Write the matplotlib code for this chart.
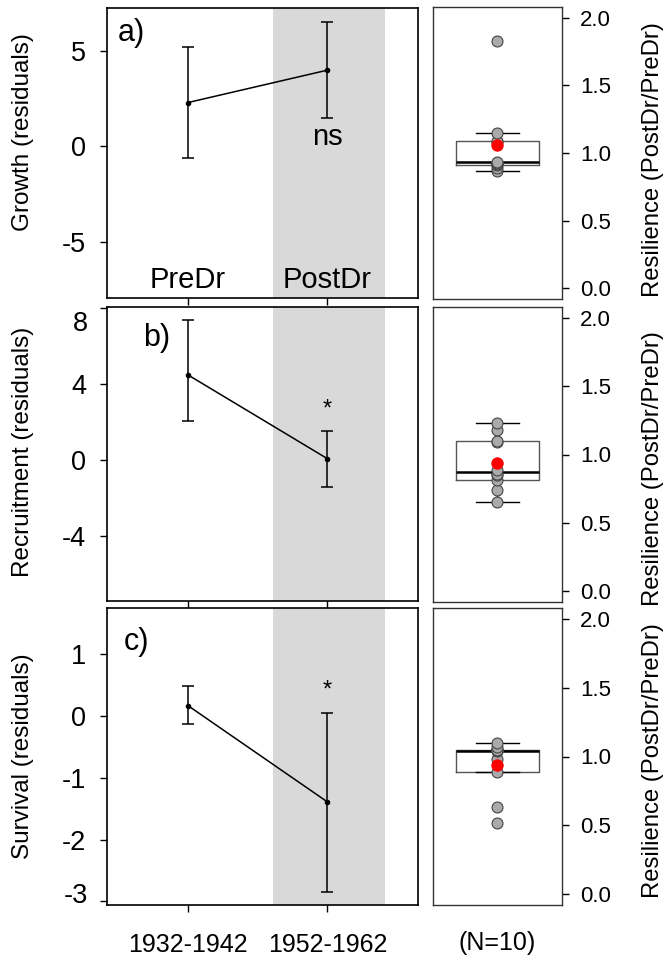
import numpy as np
import matplotlib
matplotlib.use('Agg')
import matplotlib.pyplot as plt

plt.rcParams['font.family'] = ['Liberation Sans', 'DejaVu Sans']
plt.rcParams['axes.unicode_minus'] = False

# ---------------- data ----------------
periods = ['1932-1942', '1952-1962']
phase_labels = ['PreDr', 'PostDr']
x_pos = [1, 2]

growth_mean = [2.3, 4.0]
growth_lo = [-0.63, 1.5]
growth_hi = [5.2, 6.5]

recruit_mean = [4.5, 0.09]
recruit_lo = [2.09, -1.4]
recruit_hi = [7.37, 1.56]

surv_mean = [0.17, -1.39]
surv_lo = [-0.13, -2.85]
surv_hi = [0.49, 0.05]

res_growth = [0.87, 0.89, 0.91, 0.92, 0.925, 0.935, 1.08, 1.09, 1.15, 1.83]
res_recruit = [0.65, 0.74, 0.81, 0.85, 0.86, 0.89, 1.09, 1.10, 1.18, 1.23]
res_surv = [0.52, 0.635, 0.887, 0.98, 1.04, 1.045, 1.045, 1.05, 1.07, 1.097]

sig_labels = ['ns', '*', '*']
sig_y = [0.05, 2.35, 0.32]
panel_tags = ['a)', 'b)', 'c)']
ylabels = ['Growth (residuals)', 'Recruitment (residuals)', 'Survival (residuals)']
n_label = '(N=10)'
res_label = 'Resilience (PostDr/PreDr)'

yticks_left = [[-5, 0, 5], [-4, 0, 4, 8], [-3, -2, -1, 0, 1]]
ylims_left = [(-7.95, 7.26), (-7.4, 8.07), (-3.06, 1.75)]
yticks_right = [0.0, 0.5, 1.0, 1.5, 2.0]

# ---------------- layout ----------------
W, H = 666, 959
fig = plt.figure(figsize=(W / 100, H / 100), dpi=100)

def rect(x0, y0, x1, y1):
    return [x0 / W, 1 - y1 / H, (x1 - x0) / W, (y1 - y0) / H]

left_rects = [rect(107, 8, 418, 298), rect(107, 307, 418, 601), rect(107, 608, 418, 905)]
right_rects = [rect(433, 7, 562, 299), rect(433, 307, 562, 602), rect(433, 608, 562, 905)]
ylabel_y = [132, 451.5, 756.5]
rlabel_y = [159.5, 468.7, 760.8]
tag_pos = [(0.035, 0.966), (0.116, 0.946), (0.055, 0.937)]
# tick labels drawn away from their ticks in the reference (panel, value, pixel shift down)
shifted_labels = {(1, 8): 13, (2, -3): -8}

means = [growth_mean, recruit_mean, surv_mean]
los = [growth_lo, recruit_lo, surv_lo]
his = [growth_hi, recruit_hi, surv_hi]
resil = [res_growth, res_recruit, res_surv]

FS = 17.5
YT_FS = 19.5
YT_PAD = 10
YT_LEN = 5


def r_boxstats(vals):
    v = np.sort(np.asarray(vals, dtype=float))
    n = len(v)
    n4 = np.floor((n + 3) / 2) / 2
    d = np.array([1, n4, (n + 1) / 2, n + 1 - n4, n]) - 1
    fn = 0.5 * (v[np.floor(d).astype(int)] + v[np.ceil(d).astype(int)])
    q1, med, q3 = fn[1], fn[2], fn[3]
    iqr = q3 - q1
    lo_f, hi_f = q1 - 1.5 * iqr, q3 + 1.5 * iqr
    inside = v[(v >= lo_f) & (v <= hi_f)]
    return dict(med=med, q1=q1, q3=q3, whislo=inside.min(), whishi=inside.max(), fliers=[])


for i in range(3):
    ax = fig.add_axes(left_rects[i])
    ax.axvspan(1.61, 2.41, color='#d9d9d9', lw=0, zorder=0)
    m = np.array(means[i]); lo = np.array(los[i]); hi = np.array(his[i])
    ax.errorbar(x_pos, m, yerr=[m - lo, hi - m], color='black', lw=1.1,
                capsize=4, capthick=1.1, marker='o', ms=3, zorder=3)
    ax.set_xlim(0.42, 2.65)
    ax.set_ylim(*ylims_left[i])
    ax.set_yticks(yticks_left[i])
    labs = []
    for t in yticks_left[i]:
        if (i, t) in shifted_labels:
            labs.append('')
            dy = shifted_labels[(i, t)] * 0.72
            ax.annotate(str(t), xy=(0, t), xycoords=ax.get_yaxis_transform(),
                        xytext=(-(YT_LEN * 0.72 + YT_PAD), -dy), textcoords='offset points',
                        ha='right', va='center_baseline', fontsize=YT_FS, annotation_clip=False)
        else:
            labs.append(str(t))
    ax.set_yticklabels(labs)
    ax.set_xticks(x_pos)
    ax.tick_params(axis='y', direction='out', length=YT_LEN, width=1, labelsize=YT_FS, pad=YT_PAD)
    if i == 2:
        ax.set_xticklabels(periods)
        ax.tick_params(axis='x', direction='out', length=5, width=1, labelsize=18, pad=15)
    else:
        ax.set_xticklabels([])
        ax.tick_params(axis='x', direction='out', length=5, width=1)
    for s in ax.spines.values():
        s.set_linewidth(1.2)
    ax.text(tag_pos[i][0], tag_pos[i][1], panel_tags[i], transform=ax.transAxes,
            ha='left', va='top', fontsize=22)
    if i == 0:
        for xp, lab in zip(x_pos, phase_labels):
            ax.text(xp, 0.034, lab, transform=ax.get_xaxis_transform(),
                    ha='center', va='baseline', fontsize=21)
        ax.text(x_pos[1], sig_y[i], sig_labels[i], ha='center', va='baseline', fontsize=21)
    else:
        ax.text(x_pos[1], sig_y[i], sig_labels[i], ha='center', va='baseline', fontsize=17)
    fig.text(23 / W, 1 - ylabel_y[i] / H, ylabels[i], rotation=90,
             ha='center', va='center', fontsize=FS)

    # right: resilience boxplot
    axr = fig.add_axes(right_rects[i])
    st = r_boxstats(resil[i])
    axr.bxp([st], positions=[1], widths=0.65, showfliers=False, capwidths=0.33,
            boxprops=dict(color='#555555', lw=1.0),
            medianprops=dict(color='black', lw=1.8),
            whiskerprops=dict(color='black', lw=1.0, ls='--'),
            capprops=dict(color='black', lw=1.0), zorder=2)
    axr.scatter(np.full(len(resil[i]), 1.0), resil[i], s=62, facecolor='#aaaaaa',
                edgecolor='#444444', lw=0.8, zorder=3)
    axr.scatter([1.0], [np.mean(resil[i])], s=80, color='#ff0000', lw=0, zorder=4)
    axr.set_xlim(0.5, 1.5)
    axr.set_ylim(-0.08, 2.08)
    axr.yaxis.tick_right()
    axr.set_yticks(yticks_right)
    axr.set_yticklabels([f'{t:.1f}' for t in yticks_right])
    axr.tick_params(axis='y', direction='out', length=5, width=1, labelsize=16, pad=8)
    if i == 2:
        axr.set_xticks([1])
        axr.set_xticklabels([n_label])
        axr.tick_params(axis='x', length=0, labelsize=18, pad=18.6)
    else:
        axr.set_xticks([])
    for s in axr.spines.values():
        s.set_linewidth(1.0)
        s.set_color('#333333')
    fig.text(653 / W, 1 - rlabel_y[i] / H, res_label, rotation=90,
             ha='center', va='center', fontsize=17.2)

fig.savefig('out.png', dpi=100)
